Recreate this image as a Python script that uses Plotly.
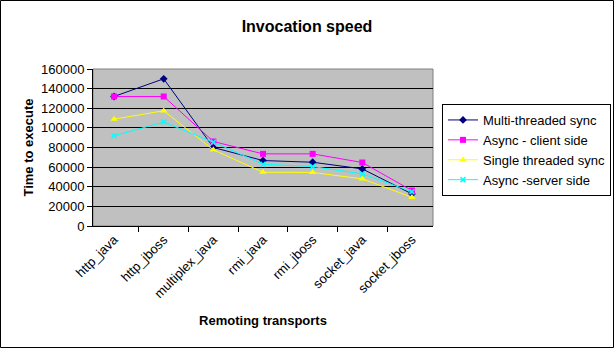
import plotly.graph_objects as go

categories = ["http_java", "http_jboss", "multiplex_java", "rmi_java", "rmi_jboss", "socket_java", "socket_jboss"]
multi_threaded_sync = [132000, 150000, 80000, 66700, 65000, 58200, 32700]
async_client_side = [132000, 132000, 86100, 73500, 73500, 64700, 36100]
single_threaded_sync = [108900, 117400, 77600, 54800, 54600, 48000, 29300]
async_server_side = [91900, 105900, 85400, 63000, 60600, 53100, 35000]
y_ticks = [0, 20000, 40000, 60000, 80000, 100000, 120000, 140000, 160000]

FONT = "Liberation Sans, Arial, sans-serif"

fig = go.Figure()
series = [
    ("Multi-threaded sync", multi_threaded_sync, "#000080", "diamond", 6, None),
    ("Async - client side", async_client_side, "#FF00FF", "square", 6, None),
    ("Single threaded sync", single_threaded_sync, "#FFFF00", "triangle-up", 6.5, None),
    ("Async -server side", async_server_side, "#00FFFF", "x-thin-open", 5, 1.5),
]
for name, vals, col, sym, sz, lw in series:
    marker = dict(symbol=sym, size=sz, color=col)
    if lw:
        marker["line"] = dict(color=col, width=lw)
    else:
        marker["line"] = dict(color=col, width=0)
    fig.add_trace(go.Scatter(x=categories, y=vals, name=name, mode="lines+markers",
                             line=dict(color=col, width=1), marker=marker))

fig.update_layout(
    width=614, height=348,
    margin=dict(l=93, r=181, t=69, b=122, autoexpand=False),
    paper_bgcolor="white",
    plot_bgcolor="#C0C0C0",
    font=dict(family=FONT, size=13, color="black"),
    title=dict(text="<b>Invocation speed</b>", x=0.5, xref="container", xanchor="center",
               y=1 - 26 / 348, yref="container", yanchor="middle",
               font=dict(family=FONT, size=16, color="black")),
    showlegend=True,
    legend=dict(x=(442 - 93) / 340, y=(226 - 104) / 157, xanchor="left", yanchor="top",
                bgcolor="white", bordercolor="black", borderwidth=1,
                font=dict(family=FONT, size=13, color="black"),
                itemwidth=30, tracegroupgap=0),
    xaxis=dict(type="category", tickson="boundaries", ticks="outside", ticklen=5,
               tickcolor="black", showline=True, linecolor="black", linewidth=1,
               showgrid=False, tickangle=-45,
               tickfont=dict(family=FONT, size=13, color="black"),
               title=dict(text="<b>Remoting transports</b>", font=dict(family=FONT, size=13, color="black"))),
    yaxis=dict(range=[0, 160000], tickvals=y_ticks, ticktext=[str(v) for v in y_ticks],
               ticks="outside", ticklen=5, tickcolor="black",
               showline=True, linecolor="black", linewidth=1,
               showgrid=True, gridcolor="black", gridwidth=1, zeroline=False,
               tickfont=dict(family=FONT, size=13, color="black"),
               title=dict(text="<b>Time to execute</b>", font=dict(family=FONT, size=13, color="black"), standoff=4)),
    shapes=[
        dict(type="rect", xref="paper", yref="paper", x0=0, x1=1, y0=0, y1=1,
             line=dict(color="#808080", width=1), layer="below"),
        dict(type="rect", xref="paper", yref="paper",
             x0=(0.5 - 93) / 340, x1=(613.5 - 93) / 340,
             y0=(226 - 347.5) / 157, y1=(226 - 0.5) / 157,
             line=dict(color="black", width=1), layer="above"),
    ],
)

fig.write_html("out.html")
